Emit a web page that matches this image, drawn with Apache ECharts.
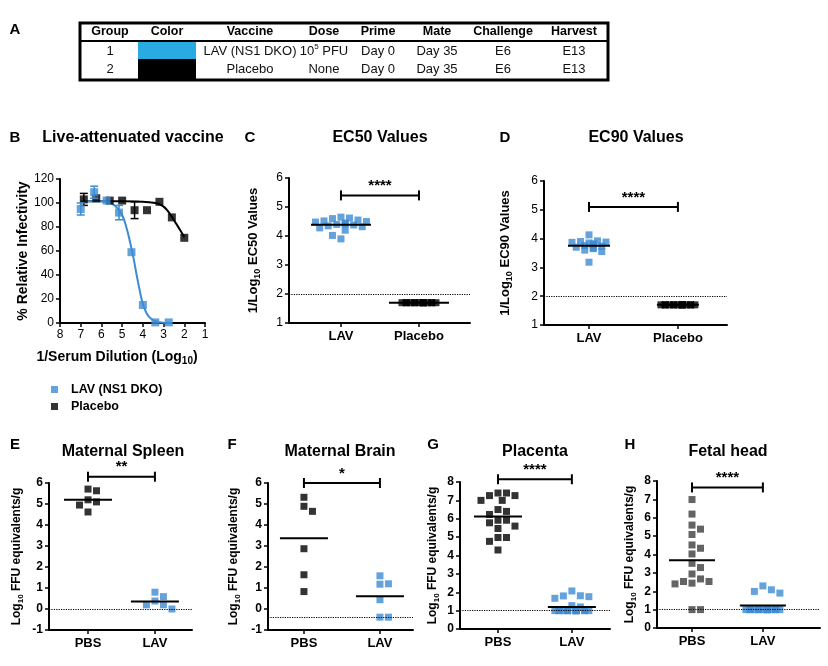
<!DOCTYPE html>
<html>
<head>
<meta charset="utf-8">
<script src="https://cdn.jsdelivr.net/npm/echarts@6.0.0/dist/echarts.min.js"></script>
<style>html,body{margin:0;padding:0;background:#fff}#chart{width:828px;height:666px}</style>
</head>
<body>
<div id="chart"></div>
<script>
var BLUE = '#3d8bd3';
var FONT = '"Liberation Sans", Arial, Helvetica, sans-serif';

// ---- panel A table ----
var tableHead = ['Group', 'Color', 'Vaccine', 'Dose', 'Prime', 'Mate', 'Challenge', 'Harvest'];
var tableRow1 = ['1', '', 'LAV (NS1 DKO)', '{t|10}{u|5}{t| PFU}', 'Day 0', 'Day 35', 'E6', 'E13'];
var tableRow2 = ['2', '', 'Placebo', 'None', 'Day 0', 'Day 35', 'E6', 'E13'];
var tableSwatch = ['#29abe2', '#000000'];

// ---- panel B: neutralisation curves ----
var bLavX = [7.0, 6.35, 5.75, 5.15, 4.55, 4.0, 3.4, 2.75];
var bLavY = [95, 109, 102, 92, 59, 15, 0.5, 0.5];
var bLavErr = [5, 5, 0, 6, 0, 0, 0, 0];
var bPlcX = [6.85, 6.25, 5.6, 5.0, 4.4, 3.8, 3.2, 2.6, 2.0];
var bPlcY = [103, 104, 102, 102, 94, 94, 101, 88, 71];
var bPlcErr = [5, 0, 0, 0, 7, 0, 0, 0, 0];
// fitted curves
var bLavFitX = [7.0, 6.0, 5.5, 5.2, 5.0, 4.8, 4.6, 4.45, 4.3, 4.15, 4.0, 3.8, 3.6, 3.3, 3.0, 2.6];
var bLavFitY = [101.5, 101.5, 99.5, 95, 90, 80, 66, 54, 40, 27, 16, 7.5, 3.5, 1, 0.3, 0];
var bPlcFitX = [6.9, 6.0, 5.0, 4.0, 3.5, 3.2, 3.0, 2.8, 2.6, 2.4, 2.2, 2.0];
var bPlcFitY = [101.5, 101.5, 101.5, 101, 100.3, 99, 97, 93.5, 88.5, 83, 77.5, 71.5];

// ---- panels C, D: EC50 / EC90 ----
var cdCats = ['LAV', 'Placebo'];
var cLav = [3.9, 4.02, 4.2, 4.28, 4.32, 4.35, 4.38, 4.4, 4.42, 4.45, 4.48, 4.5, 4.52, 4.55, 4.6, 4.62, 4.65];
var cPlacebo = [1.7, 1.7, 1.7, 1.7, 1.7, 1.7, 1.7, 1.7, 1.7, 1.7, 1.7, 1.7, 1.7, 1.7, 1.7];
var dLav = [3.18, 3.55, 3.6, 3.65, 3.68, 3.7, 3.74, 3.76, 3.8, 3.82, 3.85, 3.87, 3.88, 3.9, 3.92, 4.13];
var dPlacebo = [1.7, 1.7, 1.7, 1.7, 1.7, 1.7, 1.7, 1.7, 1.7, 1.7, 1.7, 1.7, 1.7, 1.7, 1.7];

// ---- panels E-H: tissue titres ----
var ehCats = ['PBS', 'LAV'];
var ePbs = [5.63, 5.71, 5.2, 5.1, 4.95, 4.62];
var eLav = [0.8, 0.59, 0.38, 0.2, 0.2, 0.0];
var fPbs = [5.32, 4.89, 4.65, 2.87, 1.63, 0.83];
var fLav = [1.58, 1.18, 1.2, 0.44, -0.39, -0.39];
var gPbs = [7.4, 7.26, 7.4, 7.26, 7.0, 7.0, 6.4, 6.5, 6.23, 5.92, 5.78, 5.92, 5.47, 5.6, 4.98, 4.98, 4.77, 4.3];
var gLav = [2.07, 1.81, 1.8, 1.76, 1.67, 1.27, 1.2, 1, 1, 1, 1, 1, 1, 1, 1, 1, 1, 1, 1, 1, 1, 1, 1];
var hPbs = [6.99, 6.2, 5.6, 5.38, 5.09, 4.52, 4.34, 4.03, 3.52, 3.29, 2.94, 2.53, 2.44, 2.4, 2.53, 2.67, 1, 1];
var hLav = [2.29, 1.99, 1.9, 2.08, 1, 1, 1, 1, 1, 1, 1, 1, 1, 1, 1, 1, 1, 1, 1];

var ffuName = '{b|Log}{s|10}{b| FFU equivalents/g}';

var panels = [
  {grid: {left: 289, top: 178, width: 181, height: 145}, xr: [-0.666, 1.654], yr: [1, 6], cats: cdCats,
   groups: [cLav, cPlacebo], colors: [BLUE, '#000'], spread: [28, 20], meanHalf: 30, lod: 2, sig: '****', sigY: 5.4,
   name: '{b|1/Log}{s|10}{b| EC50 Values}', nameSize: 13, nameGap: 27, boldTicks: false},
  {grid: {left: 544, top: 181, width: 183, height: 144}, xr: [-0.506, 1.552], yr: [1, 6], cats: cdCats,
   groups: [dLav, dPlacebo], colors: [BLUE, '#000'], spread: [22, 21], meanHalf: 21, lod: 2, sig: '****', sigY: 5.1,
   name: '{b|1/Log}{s|10}{b| EC90 Values}', nameSize: 13, nameGap: 30, boldTicks: false},
  {grid: {left: 49, top: 483, width: 143, height: 147}, xr: [-0.583, 1.554], yr: [-1, 6], cats: ehCats,
   groups: [ePbs, eLav], colors: ['#000', BLUE], spread: [20, 20], meanHalf: 24, lod: 0, sig: '**', sigY: 6.3,
   name: ffuName, nameSize: 12, nameGap: 24, boldTicks: true},
  {grid: {left: 268, top: 483, width: 145, height: 147}, xr: [-0.473, 1.435], yr: [-1, 6], cats: ehCats,
   groups: [fPbs, fLav], colors: ['#000', BLUE], spread: [20, 20], meanHalf: 24, lod: -0.4, sig: '*', sigY: 6.0,
   name: ffuName, nameSize: 12, nameGap: 26, boldTicks: true},
  {grid: {left: 460, top: 482, width: 150, height: 147}, xr: [-0.514, 1.516], yr: [0, 8], cats: ehCats,
   groups: [gPbs, gLav], colors: ['#000', BLUE], spread: [22, 20], meanHalf: 24, lod: 1, sig: '****', sigY: 8.15,
   name: ffuName, nameSize: 12, nameGap: 19, boldTicks: true},
  {grid: {left: 657, top: 481, width: 163, height: 147}, xr: [-0.494, 1.806], yr: [0, 8], cats: ehCats,
   groups: [hPbs, hLav], colors: ['#3d3d3d', BLUE], spread: [20, 20], meanHalf: 23, lod: 1, sig: '****', sigY: 7.65,
   name: ffuName, nameSize: 12, nameGap: 19, boldTicks: true}
];

function mean(a) {
  var s = 0;
  a.forEach(function (v) { s += v; });
  return s / a.length;
}

// column-scatter layout: horizontal pixel offsets so squares don't sit on top of each other;
// once a row is full, extra points go in the gaps between the existing ones
function swarm(vals, pxPerUnit, size, half) {
  var step = size + 1.5;
  var slots = [0];
  for (var k = 1; k * step <= half; k++) slots.push(k * step, -k * step);
  var order = vals.map(function (v, i) { return i; }).sort(function (a, b) { return vals[b] - vals[a]; });
  var placed = [], out = [], spill = 0;
  order.forEach(function (i) {
    var y = vals[i] * pxPerUnit, pick = null;
    for (var s = 0; s < slots.length && pick === null; s++) {
      var ok = placed.every(function (q) {
        return Math.abs(q.x - slots[s]) >= step - 0.01 || Math.abs(q.y - y) >= size + 1;
      });
      if (ok) pick = slots[s];
    }
    if (pick === null) {
      var base = slots[spill++ % slots.length];
      pick = base + (base > 0 ? -step / 2 : step / 2);
    }
    placed.push({x: pick, y: y});
    out[i] = pick;
  });
  return out;
}

function nameRich(size) {
  return {
    b: {fontSize: size, fontWeight: 'bold', fontFamily: FONT, color: '#000', lineHeight: size + 4},
    s: {fontSize: Math.round(size * 0.7), fontWeight: 'bold', fontFamily: FONT, color: '#000',
        verticalAlign: 'bottom', lineHeight: Math.round(size * 0.7)}
  };
}

function errRender(color) {
  return function (params, api) {
    var x = api.value(0), y = api.value(1), e = api.value(2);
    var hi = api.coord([x, y + e]), lo = api.coord([x, y - e]);
    var st = {stroke: color, lineWidth: 1.5};
    return {type: 'group', children: [
      {type: 'line', shape: {x1: hi[0], y1: hi[1], x2: lo[0], y2: lo[1]}, style: st},
      {type: 'line', shape: {x1: hi[0] - 4, y1: hi[1], x2: hi[0] + 4, y2: hi[1]}, style: st},
      {type: 'line', shape: {x1: lo[0] - 4, y1: lo[1], x2: lo[0] + 4, y2: lo[1]}, style: st}
    ]};
  };
}

function meanRender(half) {
  return function (params, api) {
    var p = api.coord([api.value(0), api.value(1)]);
    return {type: 'line', shape: {x1: p[0] - half, y1: p[1], x2: p[0] + half, y2: p[1]},
            style: {stroke: '#000', lineWidth: 2}};
  };
}

function bracketRender(label) {
  return function (params, api) {
    var a = api.coord([api.value(0), api.value(2)]);
    var b = api.coord([api.value(1), api.value(2)]);
    var st = {stroke: '#000', lineWidth: 2};
    return {type: 'group', children: [
      {type: 'line', shape: {x1: a[0], y1: a[1], x2: b[0], y2: b[1]}, style: st},
      {type: 'line', shape: {x1: a[0], y1: a[1] - 5, x2: a[0], y2: a[1] + 5}, style: st},
      {type: 'line', shape: {x1: b[0], y1: b[1] - 5, x2: b[0], y2: b[1] + 5}, style: st},
      {type: 'text', x: (a[0] + b[0]) / 2, y: a[1] - 2,
       style: {text: label, textAlign: 'center', textVerticalAlign: 'bottom', fontSize: 15,
               fontWeight: 'bold', fontFamily: FONT, fill: '#000'}}
    ]};
  };
}

function zip(xs, ys) { return xs.map(function (x, i) { return [x, ys[i]]; }); }
function zip3(xs, ys, es) {
  return xs.map(function (x, i) { return [x, ys[i], es[i]]; }).filter(function (d) { return d[2] > 0; });
}

var axisLine = {show: true, onZero: false, lineStyle: {color: '#000', width: 2}};
var axisTick = {show: true, length: 4, lineStyle: {color: '#000', width: 1.5}};

var grids = [{left: 60, top: 179, width: 145, height: 144}];
var xAxes = [{gridIndex: 0, type: 'value', min: 1, max: 8, interval: 1, inverse: true,
  axisLine: axisLine, axisTick: axisTick, splitLine: {show: false},
  axisLabel: {color: '#000', fontSize: 12, margin: 6, fontFamily: FONT}}];
var yAxes = [{gridIndex: 0, type: 'value', min: 0, max: 120, interval: 20,
  axisLine: axisLine, axisTick: axisTick, splitLine: {show: false},
  axisLabel: {color: '#000', fontSize: 12, margin: 6, fontFamily: FONT},
  name: '% Relative Infectivity', nameLocation: 'middle', nameGap: 30,
  nameTextStyle: {fontSize: 14, fontWeight: 'bold', color: '#000', fontFamily: FONT}}];

var series = [
  {type: 'line', name: 'Placebo fit', xAxisIndex: 0, yAxisIndex: 0, data: zip(bPlcFitX, bPlcFitY),
   smooth: true, showSymbol: false, lineStyle: {color: '#000', width: 2}, z: 2},
  {type: 'line', name: 'LAV fit', xAxisIndex: 0, yAxisIndex: 0, data: zip(bLavFitX, bLavFitY),
   smooth: true, showSymbol: false, lineStyle: {color: BLUE, width: 2}, z: 2},
  {type: 'custom', name: 'Placebo err', xAxisIndex: 0, yAxisIndex: 0, encode: {x: 0, y: 1},
   data: zip3(bPlcX, bPlcY, bPlcErr), renderItem: errRender('#000'), z: 3},
  {type: 'scatter', name: 'Placebo', xAxisIndex: 0, yAxisIndex: 0, data: zip(bPlcX, bPlcY),
   symbol: 'rect', symbolSize: 8, itemStyle: {color: '#000'}, z: 4},
  {type: 'custom', name: 'LAV err', xAxisIndex: 0, yAxisIndex: 0, encode: {x: 0, y: 1},
   data: zip3(bLavX, bLavY, bLavErr), renderItem: errRender(BLUE), z: 5},
  {type: 'scatter', name: 'LAV (NS1 DKO)', xAxisIndex: 0, yAxisIndex: 0, data: zip(bLavX, bLavY),
   symbol: 'rect', symbolSize: 8, itemStyle: {color: BLUE}, z: 6}
];

panels.forEach(function (p, k) {
  var ax = k + 1;
  grids.push(p.grid);
  xAxes.push({gridIndex: ax, type: 'value', min: p.xr[0], max: p.xr[1],
    axisLine: axisLine, splitLine: {show: false},
    axisTick: {show: true, length: 4, lineStyle: {color: '#000', width: 1.5}, customValues: [0, 1]},
    axisLabel: {customValues: [0, 1], color: '#000', fontSize: 13, fontWeight: 'bold', margin: 7, fontFamily: FONT,
      formatter: function (v) { return p.cats[Math.round(v)]; }}});
  yAxes.push({gridIndex: ax, type: 'value', min: p.yr[0], max: p.yr[1], interval: 1,
    axisLine: axisLine, axisTick: axisTick, splitLine: {show: false},
    axisLabel: {color: '#000', fontSize: 12, margin: 6, fontFamily: FONT, fontWeight: p.boldTicks ? 'bold' : 'normal'},
    name: p.name, nameLocation: 'middle', nameGap: p.nameGap,
    nameTextStyle: {rich: nameRich(p.nameSize)}});
  var pxPerUnit = p.grid.height / (p.yr[1] - p.yr[0]);
  p.groups.forEach(function (vals, g) {
    var offs = swarm(vals, pxPerUnit, 7, p.spread[g]);
    var s = {type: 'scatter', name: p.cats[g] + ' #' + ax, xAxisIndex: ax, yAxisIndex: ax,
      symbol: 'rect', symbolSize: 7, itemStyle: {color: p.colors[g]}, z: 3,
      data: vals.map(function (v, i) { return {value: [g, v], symbolOffset: [offs[i], 0]}; })};
    if (g === 0) {
      s.markLine = {silent: true, symbol: 'none', label: {show: false},
        lineStyle: {type: 'dotted', color: '#000', width: 1.2}, data: [{yAxis: p.lod}]};
    }
    series.push(s);
  });
  series.push({type: 'custom', name: 'mean #' + ax, xAxisIndex: ax, yAxisIndex: ax, encode: {x: 0, y: 1},
    data: p.groups.map(function (v, g) { return [g, mean(v)]; }), renderItem: meanRender(p.meanHalf), z: 5});
  series.push({type: 'custom', name: 'sig #' + ax, xAxisIndex: ax, yAxisIndex: ax, encode: {x: [0, 1], y: 2},
    data: [[0, 1, p.sigY]], renderItem: bracketRender(p.sig), clip: false, z: 5});
});

// static text: panel letters, titles, table
function txt(x, y, text, size, bold, extra) {
  var st = {text: text, fontSize: size, fontWeight: bold ? 'bold' : 'normal', fontFamily: FONT,
    fill: '#000', textAlign: 'center', textVerticalAlign: 'middle'};
  if (extra) for (var key in extra) st[key] = extra[key];
  return {type: 'text', x: x, y: y, style: st};
}

var graphics = [];
[['A', 15, 30], ['B', 15, 138], ['C', 250, 138], ['D', 505, 138],
 ['E', 15, 445], ['F', 232, 445], ['G', 433, 445], ['H', 630, 445]].forEach(function (l) {
  graphics.push(txt(l[1], l[2], l[0], 15, true));
});
[['Live-attenuated vaccine', 133, 138], ['EC50 Values', 380, 138], ['EC90 Values', 636, 138],
 ['Maternal Spleen', 123, 452], ['Maternal Brain', 340, 452], ['Placenta', 535, 452], ['Fetal head', 728, 452]]
  .forEach(function (t) { graphics.push(txt(t[1], t[2], t[0], 16, true)); });

graphics.push(txt(117, 357, '{b|1/Serum Dilution (Log}{s|10}{b|)}', 14, true, {rich: nameRich(14)}));

var colX = [110, 167, 250, 324, 378, 437, 503, 574];
graphics.push({type: 'rect', shape: {x: 138, y: 42, width: 58, height: 17}, style: {fill: tableSwatch[0]}});
graphics.push({type: 'rect', shape: {x: 138, y: 59, width: 58, height: 20}, style: {fill: tableSwatch[1]}});
graphics.push({type: 'rect', shape: {x: 80, y: 23, width: 528, height: 57}, style: {fill: 'none', stroke: '#000', lineWidth: 3}});
graphics.push({type: 'line', shape: {x1: 80, y1: 41, x2: 608, y2: 41}, style: {stroke: '#000', lineWidth: 2}});
tableHead.forEach(function (h, i) { graphics.push(txt(colX[i], 32, h, 12.5, true)); });
var rowRich = {t: {fontSize: 13, fontFamily: FONT, color: '#111', lineHeight: 16},
  u: {fontSize: 8, fontFamily: FONT, color: '#111', verticalAlign: 'top', lineHeight: 9}};
tableRow1.forEach(function (c, i) { if (c) graphics.push(txt(colX[i], 51, c, 13, false, {rich: rowRich, fill: '#111'})); });
tableRow2.forEach(function (c, i) { if (c) graphics.push(txt(colX[i], 69, c, 13, false, {fill: '#111'})); });

var chart = echarts.init(document.getElementById('chart'));
chart.setOption({
  animation: false,
  backgroundColor: '#fff',
  textStyle: {fontFamily: FONT},
  legend: {orient: 'vertical', left: 46, top: 378, itemWidth: 7, itemHeight: 7, itemGap: 4, icon: 'rect',
    data: ['LAV (NS1 DKO)', 'Placebo'],
    textStyle: {fontSize: 12.5, fontWeight: 'bold', color: '#000', padding: [0, 0, 0, 8]}},
  grid: grids,
  xAxis: xAxes,
  yAxis: yAxes,
  series: series,
  graphic: graphics
});
</script>
</body>
</html>
